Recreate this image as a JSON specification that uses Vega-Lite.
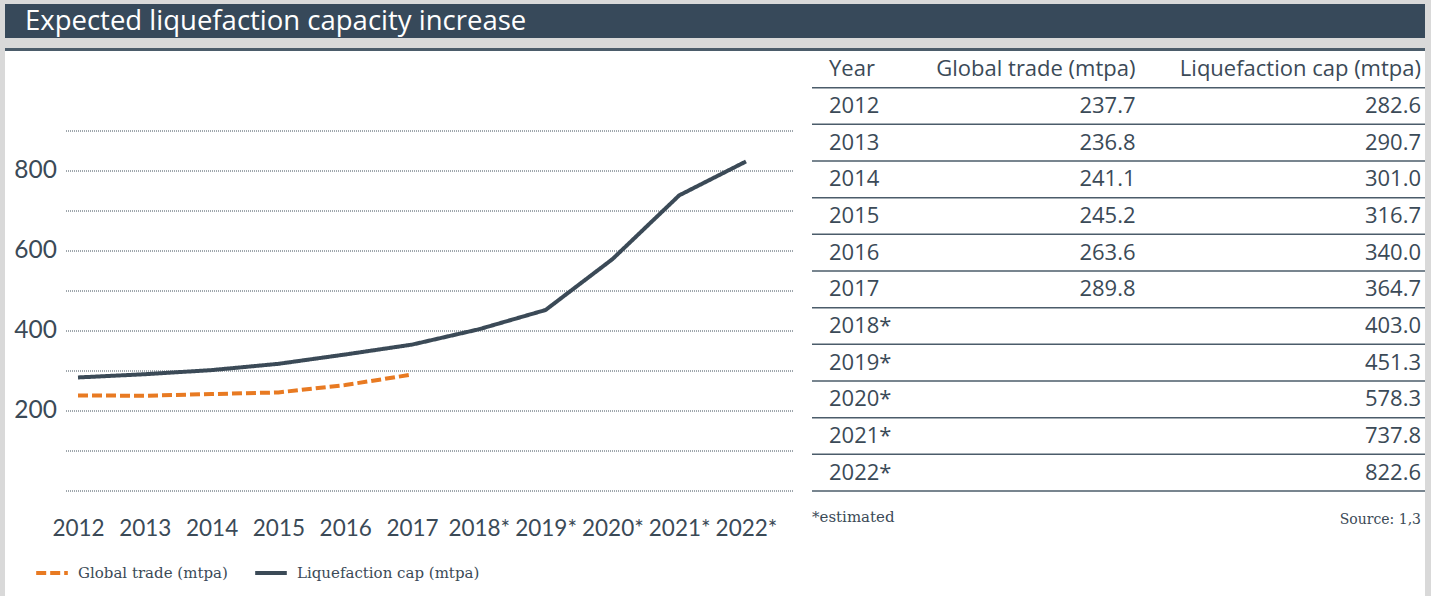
{
  "$schema": "https://vega.github.io/schema/vega-lite/v6.json",
  "background": "#d9d9d9",
  "padding": {"left": 5, "top": 4, "right": 6, "bottom": 0},
  "spacing": 10,
  "bounds": "flush",
  "config": {"view": {"stroke": null}},
  "datasets": {
    "lng": [
      {"year": 2012, "label": "2012", "trade": 237.7, "cap": 282.6},
      {"year": 2013, "label": "2013", "trade": 236.8, "cap": 290.7},
      {"year": 2014, "label": "2014", "trade": 241.1, "cap": 301.0},
      {"year": 2015, "label": "2015", "trade": 245.2, "cap": 316.7},
      {"year": 2016, "label": "2016", "trade": 263.6, "cap": 340.0},
      {"year": 2017, "label": "2017", "trade": 289.8, "cap": 364.7},
      {"year": 2018, "label": "2018*", "cap": 403.0},
      {"year": 2019, "label": "2019*", "cap": 451.3},
      {"year": 2020, "label": "2020*", "cap": 578.3},
      {"year": 2021, "label": "2021*", "cap": 737.8},
      {"year": 2022, "label": "2022*", "cap": 822.6}
    ]
  },
  "vconcat": [
    {
      "width": 1420,
      "height": 34,
      "view": {"fill": "#37495a", "stroke": null},
      "data": {"values": [{"t": "Expected liquefaction capacity increase"}]},
      "mark": {"type": "text", "align": "left", "baseline": "alphabetic", "font": "Open Sans", "fontSize": 27.5, "color": "#ffffff"},
      "encoding": {
        "x": {"value": 20},
        "y": {"value": 26},
        "text": {"field": "t"}
      }
    },
    {
      "spacing": 0,
      "bounds": "flush",
      "vconcat": [
        {
          "width": 1420,
          "height": 3,
          "view": {"fill": "#4b5c6a", "stroke": null},
          "data": {"values": [{}]},
          "mark": {"type": "rect", "color": "#4b5c6a"},
          "encoding": {}
        },
        {
          "spacing": 0,
          "bounds": "flush",
          "hconcat": [
            {
              "width": 61,
              "height": 545,
              "view": {"fill": "#ffffff", "stroke": null},
              "data": {"values": [{}]},
              "mark": {"type": "rect", "color": "#ffffff"},
              "encoding": {}
            },
            {
              "width": 727,
              "height": 545,
              "view": {"fill": "#ffffff", "stroke": null},
              "data": {"name": "lng"},
              "transform": [
                {"fold": ["trade", "cap"], "as": ["series", "value"]},
                {"filter": "isValid(datum.value)"}
              ],
              "mark": {"type": "line", "strokeWidth": 4, "interpolate": "linear"},
              "encoding": {
                "x": {
                  "field": "year",
                  "type": "quantitative",
                  "scale": {"domain": [2011.8204, 2022.7036], "nice": false, "zero": false},
                  "axis": {
                    "values": [2012, 2013, 2014, 2015, 2016, 2017, 2018, 2019, 2020, 2021, 2022],
                    "format": "d",
                    "labelExpr": "datum.value >= 2018 ? datum.label + '*' : datum.label",
                    "orient": "bottom",
                    "offset": -79,
                    "ticks": false,
                    "domain": false,
                    "grid": false,
                    "labelPadding": 0,
                    "labelBaseline": "top",
                    "labelFont": "Lato",
                    "labelFontSize": 22.5,
                    "labelColor": "#3b4a57",
                    "labelOverlap": false,
                    "labelFlush": false,
                    "title": null
                  }
                },
                "y": {
                  "field": "value",
                  "type": "quantitative",
                  "scale": {"domain": [-263.75, 1098.75], "nice": false, "zero": false},
                  "axis": {
                    "values": [0, 100, 200, 300, 400, 500, 600, 700, 800, 900],
                    "labelExpr": "(datum.value % 200 == 0 && datum.value > 0) ? datum.label : ''",
                    "orient": "left",
                    "translate": 0,
                    "ticks": false,
                    "domain": false,
                    "grid": true,
                    "gridDash": [1, 1],
                    "gridColor": "#3f4e5b",
                    "gridWidth": 1,
                    "gridOpacity": 1,
                    "labelPadding": 9,
                    "labelFont": "Lato",
                    "labelFontSize": 24.5,
                    "labelColor": "#3b4a57",
                    "title": null
                  }
                },
                "color": {
                  "field": "series",
                  "type": "nominal",
                  "scale": {"domain": ["trade", "cap"], "range": ["#e87a22", "#3b4a57"]},
                  "legend": {
                    "title": null,
                    "orient": "none",
                    "legendX": 29,
                    "legendY": 551,
                    "direction": "horizontal",
                    "symbolType": "stroke",
                    "symbolStrokeWidth": 4,
                    "symbolSize": 1000,
                    "labelFont": "DejaVu Serif",
                    "labelFontSize": 15,
                    "labelColor": "#3b4a57",
                    "labelOffset": 8,
                    "labelLimit": 400,
                    "columnPadding": 19,
                    "labelExpr": "datum.label == 'trade' ? 'Global trade (mtpa)' : 'Liquefaction cap (mtpa)'"
                  }
                },
                "strokeDash": {
                  "field": "series",
                  "type": "nominal",
                  "scale": {"domain": ["trade", "cap"], "range": [[10, 4], [1, 0]]},
                  "legend": {
                    "title": null,
                    "orient": "none",
                    "legendX": 29,
                    "legendY": 551,
                    "direction": "horizontal",
                    "symbolType": "stroke",
                    "symbolStrokeWidth": 4,
                    "symbolSize": 1000,
                    "labelFont": "DejaVu Serif",
                    "labelFontSize": 15,
                    "labelColor": "#3b4a57",
                    "labelOffset": 8,
                    "labelLimit": 400,
                    "columnPadding": 19,
                    "labelExpr": "datum.label == 'trade' ? 'Global trade (mtpa)' : 'Liquefaction cap (mtpa)'"
                  }
                }
              }
            },
            {
              "width": 19,
              "height": 545,
              "view": {"fill": "#ffffff", "stroke": null},
              "data": {"values": [{}]},
              "mark": {"type": "rect", "color": "#ffffff"},
              "encoding": {}
            },
            {
              "width": 613,
              "height": 545,
              "view": {"fill": "#ffffff", "stroke": null},
              "layer": [
                {
                  "data": {"name": "lng"},
                  "mark": {"type": "rule", "color": "#4b5c6a", "strokeWidth": 1.5},
                  "encoding": {
                    "y": {
                      "field": "label",
                      "type": "nominal",
                      "bandPosition": 1,
                      "scale": {
                        "type": "band",
                        "domain": ["Year", "2012", "2013", "2014", "2015", "2016", "2017", "2018*", "2019*", "2020*", "2021*", "2022*", "foot"],
                        "range": [0, 476.7],
                        "paddingInner": 0,
                        "paddingOuter": 0
                      },
                      "axis": null
                    }
                  }
                },
                {
                  "data": {"values": [{"k": "Year"}]},
                  "mark": {"type": "rule", "color": "#4b5c6a", "strokeWidth": 1.5},
                  "encoding": {
                    "y": {"field": "k", "type": "nominal", "bandPosition": 1, "axis": null}
                  }
                },
                {
                  "data": {"name": "lng"},
                  "mark": {"type": "text", "align": "left", "baseline": "middle", "dx": -21, "font": "Open Sans", "fontSize": 22, "color": "#3b4a57"},
                  "encoding": {
                    "y": {"field": "label", "type": "nominal", "axis": null},
                    "x": {
                      "datum": "Year",
                      "type": "nominal",
                      "scale": {"type": "point", "domain": ["Year", "trade", "cap"], "range": [38, 609], "padding": 0},
                      "axis": null
                    },
                    "text": {"field": "label"}
                  }
                },
                {
                  "data": {"name": "lng"},
                  "transform": [{"filter": "isValid(datum.trade)"}],
                  "mark": {"type": "text", "align": "right", "baseline": "middle", "font": "Open Sans", "fontSize": 22, "color": "#3b4a57"},
                  "encoding": {
                    "y": {"field": "label", "type": "nominal", "axis": null},
                    "x": {"datum": "trade", "type": "nominal", "axis": null},
                    "text": {"field": "trade", "type": "quantitative", "format": ".1f"}
                  }
                },
                {
                  "data": {"name": "lng"},
                  "mark": {"type": "text", "align": "right", "baseline": "middle", "font": "Open Sans", "fontSize": 22, "color": "#3b4a57"},
                  "encoding": {
                    "y": {"field": "label", "type": "nominal", "axis": null},
                    "x": {"datum": "cap", "type": "nominal", "axis": null},
                    "text": {"field": "cap", "type": "quantitative", "format": ".1f"}
                  }
                },
                {
                  "data": {"values": [{"k": "Year", "t": "Year"}]},
                  "mark": {"type": "text", "align": "left", "baseline": "middle", "dx": -21, "font": "Open Sans", "fontSize": 22, "color": "#3b4a57"},
                  "encoding": {
                    "y": {"field": "k", "type": "nominal", "axis": null},
                    "x": {"field": "k", "type": "nominal", "axis": null},
                    "text": {"field": "t"}
                  }
                },
                {
                  "data": {"values": [{"k": "trade", "t": "Global trade (mtpa)"}, {"k": "cap", "t": "Liquefaction cap (mtpa)"}]},
                  "mark": {"type": "text", "align": "right", "baseline": "middle", "font": "Open Sans", "fontSize": 22, "color": "#3b4a57"},
                  "encoding": {
                    "y": {"datum": "Year", "type": "nominal", "axis": null},
                    "x": {"field": "k", "type": "nominal", "axis": null},
                    "text": {"field": "t"}
                  }
                },
                {
                  "data": {"values": [{"k": "Year", "t": "*estimated"}]},
                  "mark": {"type": "text", "align": "left", "baseline": "middle", "dx": -38, "dy": 8, "font": "DejaVu Serif", "fontSize": 15, "color": "#3b4a57"},
                  "encoding": {
                    "y": {"datum": "foot", "type": "nominal", "axis": null},
                    "x": {"field": "k", "type": "nominal", "axis": null},
                    "text": {"field": "t"}
                  }
                },
                {
                  "data": {"values": [{"k": "cap", "t": "Source: 1,3"}]},
                  "mark": {"type": "text", "align": "right", "baseline": "middle", "dy": 11, "font": "DejaVu Serif", "fontSize": 14, "color": "#3b4a57"},
                  "encoding": {
                    "y": {"datum": "foot", "type": "nominal", "axis": null},
                    "x": {"field": "k", "type": "nominal", "axis": null},
                    "text": {"field": "t"}
                  }
                }
              ]
            }
          ]
        }
      ]
    }
  ]
}
